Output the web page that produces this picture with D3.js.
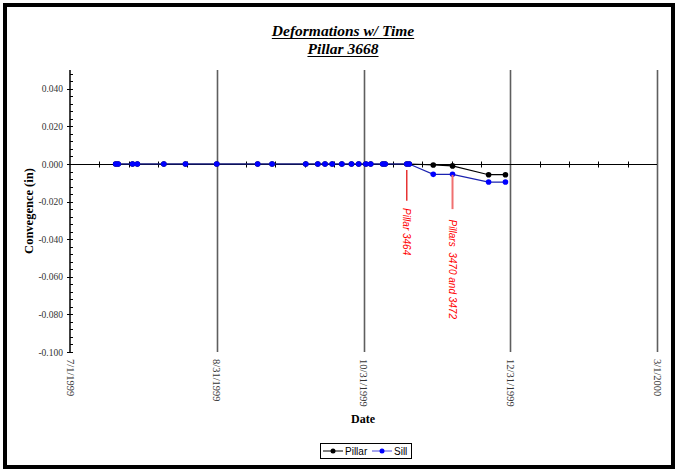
<!DOCTYPE html>
<html>
<head>
<meta charset="utf-8">
<script src="https://cdn.jsdelivr.net/npm/d3@7"></script>
<style>
  html, body { margin: 0; padding: 0; background: #fff; }
  svg { display: block; }
</style>
</head>
<body>
<svg id="chart" width="678" height="470"></svg>
<script>
// ---------------- DATA ----------------
const titleLines = ["Deformations w/ Time", "Pillar 3668"];
const yAxisTitle = "Convegence (in)";
const xAxisTitle = "Date";

const xTickDates = ["1999-07-01", "1999-08-31", "1999-10-31", "1999-12-31", "2000-03-01"];
const xTickLabels = ["7/1/1999", "8/31/1999", "10/31/1999", "12/31/1999", "3/1/2000"];
const yTickValues = [0.04, 0.02, 0.0, -0.02, -0.04, -0.06, -0.08, -0.10];
const yTickLabels = ["0.040", "0.020", "0.000", "-0.020", "-0.040", "-0.060", "-0.080", "-0.100"];

const readingDates = [
  "1999-07-20", "1999-07-21", "1999-07-27", "1999-07-29", "1999-08-09", "1999-08-18",
  "1999-08-31", "1999-09-17", "1999-09-23", "1999-10-07", "1999-10-12", "1999-10-15",
  "1999-10-18", "1999-10-22", "1999-10-26", "1999-10-29", "1999-11-01", "1999-11-03",
  "1999-11-08", "1999-11-09", "1999-11-18", "1999-11-19", "1999-11-29", "1999-12-07",
  "1999-12-22", "1999-12-29"
];
const pillarValues = [
  0, 0, 0, 0, 0, 0,
  0, 0, 0, 0, 0, 0,
  0, 0, 0, 0, 0, 0,
  0, 0, 0, 0, -0.0005, -0.001,
  -0.0057, -0.0057
];
const sillValues = [
  0, 0, 0, 0, 0, 0,
  0, 0, 0, 0, 0, 0,
  0, 0, 0, 0, 0, 0,
  0, 0, 0, 0, -0.0055, -0.0055,
  -0.0096, -0.0096
];

const annotationDates = ["1999-11-18", "1999-12-07"];
const annotationTexts = ["Pillar 3464", "Pillars  3470 and 3472"];
const annotationLineTop = [-0.0032, -0.0058];
const annotationLineBottom = [-0.0195, -0.024];
const annotationTextStart = [-0.0234, -0.0295];

const seriesNames = ["Pillar", "Sill"];

// ---------------- SETUP ----------------
const parse = d3.utcParse("%Y-%m-%d");
const svg = d3.select("#chart");
const serif = "'Liberation Serif', 'Times New Roman', serif";
const sans = "'Liberation Sans', Arial, sans-serif";

const plot = { left: 70, right: 657, top: 70, bottom: 352 };

const x = d3.scaleUtc()
  .domain([parse("1999-07-01"), parse("2000-03-01")])
  .range([plot.left, plot.right]);
const y = d3.scaleLinear()
  .domain([-0.10, 0.05])
  .range([plot.bottom, plot.top]);

// outer frame
svg.append("rect")
  .attr("x", 5).attr("y", 5).attr("width", 668).attr("height", 462)
  .attr("fill", "#fff").attr("stroke", "#000").attr("stroke-width", 4);

// ---------------- TITLE ----------------
titleLines.forEach((t, i) => {
  const by = 36 + i * 18;
  const txt = svg.append("text")
    .attr("x", 343).attr("y", by)
    .attr("text-anchor", "middle")
    .attr("font-family", serif)
    .attr("font-size", 15.5)
    .attr("font-weight", "bold")
    .attr("font-style", "italic")
    .attr("fill", "#000")
    .text(t);
  const w = txt.node().getComputedTextLength();
  svg.append("line")
    .attr("x1", 343 - w / 2).attr("x2", 343 + w / 2)
    .attr("y1", by + 2.5).attr("y2", by + 2.5)
    .attr("stroke", "#000").attr("stroke-width", 1);
});

// ---------------- GRIDLINES ----------------
const majorDates = xTickDates.map(parse);
svg.append("g").selectAll("line")
  .data(majorDates.slice(1))
  .join("line")
  .attr("x1", d => Math.round(x(d)) + 0.5).attr("x2", d => Math.round(x(d)) + 0.5)
  .attr("y1", plot.top).attr("y2", plot.bottom)
  .attr("stroke", "#5e5e5e").attr("stroke-width", 1.6);

// ---------------- Y AXIS ----------------
const yAxisG = svg.append("g").attr("transform", `translate(${plot.left},0)`);
yAxisG.append("line")
  .attr("x1", 0).attr("x2", 0).attr("y1", plot.top).attr("y2", plot.bottom)
  .attr("stroke", "#000").attr("stroke-width", 1.5);
const yMinor = d3.range(-0.1, 0.0501, 0.004).map(v => +v.toFixed(4));
yAxisG.selectAll("line.minor")
  .data(yMinor)
  .join("line").attr("class", "minor")
  .attr("x1", 0).attr("x2", 3)
  .attr("y1", d => Math.round(y(d)) + 0.5).attr("y2", d => Math.round(y(d)) + 0.5)
  .attr("stroke", "#000").attr("stroke-width", 1);
yAxisG.selectAll("line.major")
  .data(yTickValues)
  .join("line").attr("class", "major")
  .attr("x1", -3).attr("x2", 3)
  .attr("y1", d => Math.round(y(d)) + 0.5).attr("y2", d => Math.round(y(d)) + 0.5)
  .attr("stroke", "#000").attr("stroke-width", 1);
yAxisG.selectAll("text")
  .data(yTickValues)
  .join("text")
  .attr("x", -7).attr("y", d => y(d) + 3.5)
  .attr("text-anchor", "end")
  .attr("font-family", serif).attr("font-size", 9.5)
  .attr("fill", "#333")
  .text((d, i) => yTickLabels[i]);

svg.append("text")
  .attr("transform", `translate(33,${(plot.top + plot.bottom) / 2}) rotate(-90)`)
  .attr("text-anchor", "middle")
  .attr("font-family", serif).attr("font-size", 12.5).attr("font-weight", "bold")
  .attr("fill", "#000")
  .text(yAxisTitle);

// ---------------- X AXIS (at y = 0) ----------------
const y0 = Math.round(y(0)) + 0.5;
svg.append("line")
  .attr("x1", plot.left).attr("x2", plot.right)
  .attr("y1", y0).attr("y2", y0)
  .attr("stroke", "#000").attr("stroke-width", 1);
const minorTicks = [];
for (let i = 0; i < majorDates.length - 1; i++) {
  const a = majorDates[i], b = majorDates[i + 1];
  for (let k = 1; k < 5; k++) minorTicks.push(new Date(+a + (b - a) * k / 5));
}
svg.append("g").selectAll("line")
  .data(minorTicks)
  .join("line")
  .attr("x1", d => Math.round(x(d)) + 0.5).attr("x2", d => Math.round(x(d)) + 0.5)
  .attr("y1", y0 - 3).attr("y2", y0 + 3)
  .attr("stroke", "#000").attr("stroke-width", 1);

// x tick labels (rotated)
svg.append("g").selectAll("text")
  .data(majorDates)
  .join("text")
  .attr("transform", d => `translate(${x(d) - 3.5},${plot.bottom + 7}) rotate(90)`)
  .attr("text-anchor", "start")
  .attr("font-family", serif).attr("font-size", 10.5)
  .attr("fill", "#333")
  .text((d, i) => xTickLabels[i]);

svg.append("text")
  .attr("x", 363).attr("y", 423)
  .attr("text-anchor", "middle")
  .attr("font-family", serif).attr("font-size", 12).attr("font-weight", "bold")
  .attr("fill", "#000")
  .text(xAxisTitle);

// ---------------- SERIES ----------------
const pillarData = readingDates.map((d, i) => ({ date: parse(d), v: pillarValues[i] }));
const sillData = readingDates.map((d, i) => ({ date: parse(d), v: sillValues[i] }));
const lineGen = d3.line().x(d => x(d.date)).y(d => y(d.v));

function drawSeries(data, lineColor, dotColor) {
  svg.append("path")
    .datum(data)
    .attr("d", lineGen)
    .attr("fill", "none")
    .attr("stroke", lineColor).attr("stroke-width", 1.2);
  svg.append("g").selectAll("circle")
    .data(data)
    .join("circle")
    .attr("cx", d => x(d.date)).attr("cy", d => y(d.v))
    .attr("r", 2.8)
    .attr("fill", dotColor);
}
drawSeries(pillarData, "#000", "#000");
drawSeries(sillData, "#1a22b0", "#0000ff");

// ---------------- ANNOTATIONS ----------------
annotationDates.forEach((d, i) => {
  const ax = x(parse(d));
  svg.append("line")
    .attr("x1", ax).attr("x2", ax)
    .attr("y1", y(annotationLineTop[i])).attr("y2", y(annotationLineBottom[i]))
    .attr("stroke", i === 0 ? "#e00000" : "#f07070").attr("stroke-width", i === 0 ? 1.2 : 2);
  svg.append("text")
    .attr("transform", `translate(${ax - 3.5},${y(annotationTextStart[i])}) rotate(90)`)
    .attr("text-anchor", "start")
    .attr("font-family", sans).attr("font-size", 10).attr("font-style", "italic")
    .attr("fill", "#ff0000")
    .style("white-space", "pre")
    .attr("xml:space", "preserve")
    .text(annotationTexts[i]);
});

// ---------------- LEGEND ----------------
const lg = svg.append("g").attr("transform", "translate(320,443)");
lg.append("rect")
  .attr("x", 0.5).attr("y", 0.5).attr("width", 91).attr("height", 15)
  .attr("fill", "#fff").attr("stroke", "#000").attr("stroke-width", 1);
const legendColors = [["#000", "#000"], ["#4a4ae0", "#0000ff"]];
const legendX = [3, 52];
seriesNames.forEach((name, i) => {
  const gx = legendX[i];
  lg.append("line")
    .attr("x1", gx).attr("x2", gx + 20).attr("y1", 8).attr("y2", 8)
    .attr("stroke", legendColors[i][0]).attr("stroke-width", 1);
  lg.append("circle")
    .attr("cx", gx + 10).attr("cy", 8).attr("r", 2.5)
    .attr("fill", legendColors[i][1]);
  lg.append("text")
    .attr("x", gx + 22).attr("y", 11.5)
    .attr("font-family", sans).attr("font-size", 10)
    .attr("fill", "#000")
    .text(name);
});
</script>
</body>
</html>
